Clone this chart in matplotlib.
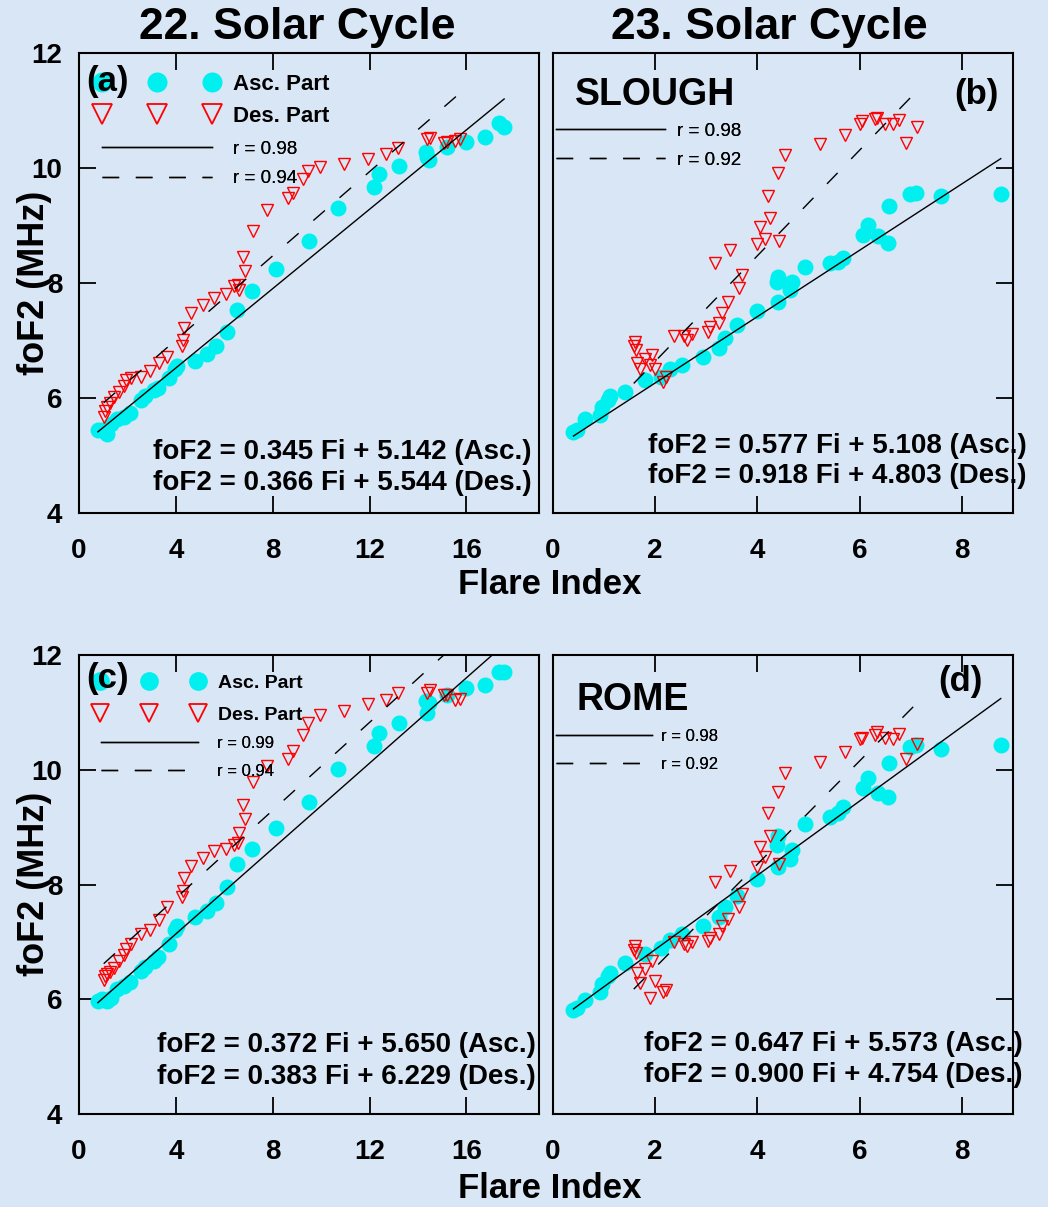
import numpy as np
import matplotlib.pyplot as plt
from matplotlib.lines import Line2D

plt.rcParams['font.family'] = ['Liberation Sans', 'DejaVu Sans']

# ---- data ----
# flare index, solar cycle 22 (same for Slough and Rome)
fi22_asc = [0.78, 0.95, 1.16, 1.31, 1.55, 1.87, 2.09, 2.58, 2.73, 3.08, 3.25, 3.72,
            3.95, 4.05, 4.78, 5.30, 5.64, 6.13, 6.53, 7.13, 8.14, 9.52, 10.68, 12.17,
            12.38, 13.23, 14.34, 14.37, 14.44, 15.22, 16.00, 16.78, 17.35, 17.56]
slough22_asc = [5.44, 5.45, 5.37, 5.55, 5.64, 5.67, 5.74, 5.97, 6.04, 6.14, 6.17, 6.34,
                6.50, 6.56, 6.64, 6.77, 6.91, 7.14, 7.53, 7.86, 8.24, 8.73, 9.31, 9.67,
                9.89, 10.03, 10.27, 10.20, 10.14, 10.37, 10.46, 10.54, 10.79, 10.71]
rome22_asc = [5.97, 6.00, 5.97, 6.03, 6.17, 6.23, 6.30, 6.50, 6.57, 6.67, 6.74, 6.97,
              7.21, 7.28, 7.43, 7.54, 7.68, 7.95, 8.35, 8.62, 8.99, 9.44, 10.01, 10.41,
              10.64, 10.81, 11.20, 10.99, 11.17, 11.30, 11.42, 11.48, 11.70, 11.70]

fi22_des = [1.02, 1.09, 1.16, 1.30, 1.45, 1.66, 1.87, 1.94, 2.16, 2.55, 2.94, 3.29,
            3.62, 4.27, 4.29, 4.32, 4.64, 5.14, 5.57, 6.06, 6.42, 6.56, 6.60, 6.84,
            6.77, 7.20, 7.77, 8.62, 8.84, 9.26, 9.47, 9.97, 10.96, 11.94, 12.66, 13.16,
            14.37, 14.51, 15.08, 15.22, 15.55, 15.72]
slough22_des = [5.67, 5.77, 5.84, 5.91, 6.01, 6.11, 6.21, 6.31, 6.34, 6.37, 6.47, 6.61,
                6.71, 6.91, 7.01, 7.21, 7.47, 7.61, 7.74, 7.81, 7.94, 7.97, 7.88, 8.21,
                8.46, 8.91, 9.27, 9.47, 9.57, 9.81, 9.94, 10.01, 10.07, 10.15, 10.24, 10.34,
                10.51, 10.53, 10.44, 10.45, 10.47, 10.51]
rome22_des = [6.34, 6.40, 6.44, 6.47, 6.54, 6.67, 6.77, 6.87, 6.97, 7.14, 7.21, 7.38,
              7.61, 7.78, 7.88, 8.11, 8.32, 8.46, 8.58, 8.62, 8.68, 8.72, 8.89, 9.15,
              9.39, 9.79, 10.06, 10.19, 10.33, 10.60, 10.81, 10.95, 11.03, 11.15, 11.21, 11.34,
              11.34, 11.39, 11.30, 11.30, 11.21, 11.23]

# flare index, solar cycle 23
fi23_asc = [0.40, 0.47, 0.63, 0.91, 0.96, 1.07, 1.12, 1.41, 1.80, 2.11, 2.29, 2.52,
            2.93, 3.24, 3.37, 3.60, 3.99, 4.38, 4.41, 4.41, 4.64, 4.67, 4.93, 5.42,
            5.58, 5.68, 6.07, 6.17, 6.36, 6.56, 6.58, 6.98, 7.11, 7.60, 8.76]
slough23_asc = [5.41, 5.44, 5.64, 5.71, 5.84, 5.97, 6.04, 6.11, 6.31, 6.37, 6.51, 6.57,
                6.71, 6.87, 7.04, 7.27, 7.51, 8.01, 7.67, 8.11, 7.87, 8.01, 8.27, 8.34,
                8.37, 8.44, 8.84, 9.01, 8.81, 8.69, 9.34, 9.54, 9.57, 9.51, 9.55]
rome23_asc = [5.82, 5.85, 5.99, 6.12, 6.26, 6.40, 6.46, 6.63, 6.79, 6.90, 7.03, 7.13,
              7.27, 7.43, 7.60, 7.80, 8.09, 8.68, 8.31, 8.85, 8.44, 8.61, 9.06, 9.18,
              9.24, 9.35, 9.69, 9.85, 9.60, 9.53, 10.12, 10.39, 10.43, 10.36, 10.43]

fi23_des = [1.58, 1.61, 1.63, 1.64, 1.71, 1.80, 1.90, 1.93, 2.00, 2.16, 2.22, 2.37,
            2.57, 2.62, 2.72, 3.04, 3.07, 3.17, 3.24, 3.30, 3.43, 3.47, 3.63, 3.69,
            3.99, 4.05, 4.15, 4.21, 4.25, 4.43, 4.41, 4.54, 5.22, 5.71, 6.01, 6.04,
            6.30, 6.33, 6.50, 6.66, 6.76, 6.91, 7.13]
slough23_des = [6.91, 6.97, 6.84, 6.61, 6.51, 6.67, 6.57, 6.74, 6.51, 6.27, 6.37, 7.07,
                7.07, 7.01, 7.11, 7.14, 7.24, 8.34, 7.31, 7.47, 7.67, 8.57, 7.91, 8.14,
                8.67, 8.97, 8.77, 9.51, 9.13, 8.73, 9.91, 10.22, 10.42, 10.57, 10.77, 10.81,
                10.85, 10.87, 10.77, 10.77, 10.84, 10.44, 10.71]
rome23_des = [6.86, 6.93, 6.80, 6.46, 6.29, 6.53, 6.02, 6.66, 6.32, 6.12, 6.16, 7.00,
              6.96, 6.93, 7.00, 7.02, 7.06, 8.04, 7.13, 7.27, 7.40, 8.24, 7.60, 7.84,
              8.31, 8.66, 8.48, 9.25, 8.85, 8.36, 9.62, 9.94, 10.14, 10.31, 10.53, 10.56,
              10.61, 10.65, 10.56, 10.54, 10.63, 10.19, 10.45]

# regression (slope, intercept) for asc / des and correlation coefficients
fit_slough22 = [(0.345, 5.142), (0.366, 5.544)]
fit_slough23 = [(0.577, 5.108), (0.918, 4.803)]
fit_rome22 = [(0.372, 5.650), (0.383, 6.229)]
fit_rome23 = [(0.647, 5.573), (0.900, 4.754)]
r_slough22 = [0.98, 0.94]
r_slough23 = [0.98, 0.92]
r_rome22 = [0.99, 0.94]
r_rome23 = [0.98, 0.92]

CYAN = '#00f0f0'
RED = '#ff0000'
BG = '#d9e6f5'
W, H = 1048, 1207


def box(l, t, r, b):
    return [l / W, 1 - b / H, (r - l) / W, (b - t) / H]


def draw_panel(ax, fi_a, y_a, fi_d, y_d, fits, xmax, xticks, left_side):
    ax.set_facecolor('none')
    ax.plot(fi_a, y_a, 'o', color=CYAN, mec='none', ms=11.5, zorder=2)
    ax.plot(fi_d, y_d, 'v', mfc='none', mec=RED, ms=9, mew=1.0, zorder=2)
    xa = np.array([min(fi_a), max(fi_a)])
    xd = np.array([min(fi_d), max(fi_d)])
    ax.plot(xa, fits[0][0] * xa + fits[0][1], color='k', lw=1.0, zorder=3)
    ax.plot(xd, fits[1][0] * xd + fits[1][1], color='k', lw=1.0, dashes=(11, 14), zorder=3)
    ax.set_xlim(0, xmax)
    ax.set_ylim(4, 12)
    ax.set_xticks(xticks)
    ax.set_yticks([4, 6, 8, 10, 12])
    ax.tick_params(direction='in', length=12, width=1.3, labelsize=20,
                   top=True, bottom=True, left=left_side, right=not left_side,
                   labelleft=left_side, labelright=False)
    ax.tick_params(axis='y', pad=12)
    ax.tick_params(axis='x', pad=18)
    for lab in ax.get_xticklabels() + ax.get_yticklabels():
        lab.set_fontweight('bold')
    for sp in ax.spines.values():
        sp.set_linewidth(1.5)


def eq_text(ax, x, y1, y2, fits):
    ax.text(x, y1, 'foF2 = %.3f Fi + %.3f (Asc.)' % fits[0], transform=ax.transAxes,
            fontsize=20, fontweight='bold', va='center', ha='left', zorder=6)
    ax.text(x, y2, 'foF2 = %.3f Fi + %.3f (Des.)' % fits[1], transform=ax.transAxes,
            fontsize=20, fontweight='bold', va='center', ha='left', zorder=6)


def marker_legend(ax, anchor, fs, ms, hl, tp, ls):
    h1 = Line2D([], [], ls='none', marker='o', color=CYAN, mec='none', ms=ms)
    h2 = Line2D([], [], ls='none', marker='v', mfc='none', mec=RED, ms=ms, mew=1.3)
    leg = ax.legend([h1, h2], ['Asc. Part', 'Des. Part'], loc='upper left',
                    bbox_to_anchor=anchor, numpoints=3, handlelength=hl,
                    handletextpad=tp, labelspacing=ls, borderpad=0, borderaxespad=0,
                    frameon=False, prop={'size': fs, 'weight': 'bold'})
    ax.add_artist(leg)


def line_legend(ax, rr, anchor, fs, hl, tp, ls):
    h1 = Line2D([], [], color='k', lw=1.0)
    h2 = Line2D([], [], color='k', lw=1.0, dashes=(12, 12))
    leg = ax.legend([h1, h2], ['r = %.2f' % rr[0], 'r = %.2f' % rr[1]], loc='upper left',
                    bbox_to_anchor=anchor, numpoints=1, handlelength=hl,
                    handletextpad=tp, labelspacing=ls, borderpad=0, borderaxespad=0,
                    frameon=False, prop={'size': fs, 'weight': 'normal'})
    ax.add_artist(leg)


fig = plt.figure(figsize=(W / 100, H / 100), dpi=100, facecolor=BG)
ax_a = fig.add_axes(box(79, 53, 539, 513))
ax_b = fig.add_axes(box(553, 53, 1013, 513))
ax_c = fig.add_axes(box(79, 655, 539, 1114))
ax_d = fig.add_axes(box(553, 655, 1013, 1114))

draw_panel(ax_a, fi22_asc, slough22_asc, fi22_des, slough22_des, fit_slough22,
           19, [0, 4, 8, 12, 16], True)
draw_panel(ax_b, fi23_asc, slough23_asc, fi23_des, slough23_des, fit_slough23,
           9, [0, 2, 4, 6, 8], False)
draw_panel(ax_c, fi22_asc, rome22_asc, fi22_des, rome22_des, fit_rome22,
           19, [0, 4, 8, 12, 16], True)
draw_panel(ax_d, fi23_asc, rome23_asc, fi23_des, rome23_des, fit_rome23,
           9, [0, 2, 4, 6, 8], False)

# legends
marker_legend(ax_a, (0.035, 0.955), 16, 14.4, 5.55, 0.65, 0.51)
line_legend(ax_a, r_slough22, (0.05, 0.809), 13.5, 5.87, 1.12, 0.64)
line_legend(ax_b, r_slough23, (0.0065, 0.849), 13.5, 5.8, 0.64, 0.64)
marker_legend(ax_c, (0.033, 0.958), 14, 13.5, 5.65, 0.73, 0.74)
line_legend(ax_c, r_rome22, (0.048, 0.824), 12, 5.8, 1.14, 0.80)
line_legend(ax_d, r_rome23, (0.0065, 0.839), 12, 5.76, 0.57, 0.80)

# panel labels and station names
ax_a.text(0.063, 0.937, '(a)', transform=ax_a.transAxes, fontsize=25, fontweight='bold',
          ha='center', va='center', zorder=6)
ax_c.text(0.063, 0.948, '(c)', transform=ax_c.transAxes, fontsize=25, fontweight='bold',
          ha='center', va='center', zorder=6)
ax_b.text(0.92, 0.909, '(b)', transform=ax_b.transAxes, fontsize=25, fontweight='bold',
          ha='center', va='center')
ax_d.text(0.885, 0.943, '(d)', transform=ax_d.transAxes, fontsize=25, fontweight='bold',
          ha='center', va='center')
ax_b.text(0.222, 0.909, 'SLOUGH', transform=ax_b.transAxes, fontsize=27, fontweight='bold',
          ha='center', va='center')
ax_d.text(0.174, 0.902, 'ROME', transform=ax_d.transAxes, fontsize=27, fontweight='bold',
          ha='center', va='center')

eq_text(ax_a, 0.161, 0.133, 0.065, fit_slough22)
eq_text(ax_b, 0.207, 0.146, 0.080, fit_slough23)
eq_text(ax_c, 0.170, 0.150, 0.081, fit_rome22)
eq_text(ax_d, 0.198, 0.152, 0.085, fit_rome23)

# figure-level titles and axis labels
fig.text(297 / W, 1 - 28 / H, '22. Solar Cycle', fontsize=32, fontweight='bold',
         ha='center', va='center')
fig.text(769 / W, 1 - 28 / H, '23. Solar Cycle', fontsize=32, fontweight='bold',
         ha='center', va='center')
for yc in (283, 884):
    fig.text(35 / W, 1 - yc / H, 'foF2 (MHz)', fontsize=26, fontweight='bold',
             rotation=90, ha='center', va='center')
for yc in (585, 1189):
    fig.text(550 / W, 1 - yc / H, 'Flare Index', fontsize=25, fontweight='bold',
             ha='center', va='center')

fig.savefig('out.png', dpi=100, facecolor=BG)
